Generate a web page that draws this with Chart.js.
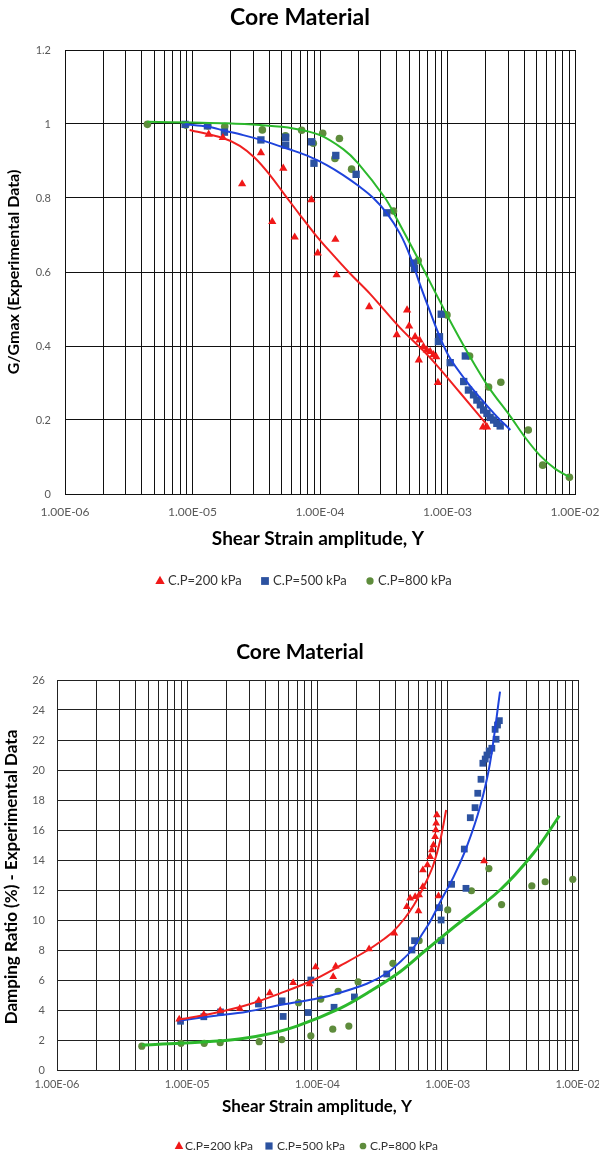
<!DOCTYPE html>
<html><head><meta charset="utf-8">
<script src="https://cdn.jsdelivr.net/npm/chart.js@4.4.1/dist/chart.umd.min.js"></script>
<style>
html,body{margin:0;padding:0;background:#fff;}
#wrap{position:relative;width:599px;height:1151px;overflow:hidden;}
#c1{position:absolute;left:0;top:0;}
#c2{position:absolute;left:0;top:600px;}
</style></head><body><div id="wrap">
<canvas id="c1" width="599" height="600"></canvas>
<canvas id="c2" width="599" height="551"></canvas>
</div>
<script>
// ---------- shared axis labels ----------
const xMajorValues = [1e-6, 1e-5, 1e-4, 1e-3, 1e-2];
const xTickLabels = ['1.00E-06', '1.00E-05', '1.00E-04', '1.00E-03', '1.00E-02'];
const seriesNames = ['C.P=200 kPa', 'C.P=500 kPa', 'C.P=800 kPa'];

// ---------- Chart 1: G/Gmax ----------
const g200x = [1.34e-5,1.73e-5,2.45e-5,3.44e-5,4.22e-5,5.15e-5,6.33e-5,8.55e-5,9.6e-5,1.32e-4,1.35e-4,2.43e-4,4.82e-4,5.0e-4,4.0e-4,5.57e-4,6.03e-4,6.48e-4,6.88e-4,7.31e-4,7.76e-4,8.15e-4,5.96e-4,8.41e-4,1.9e-3,2.04e-3];
const g200y = [0.972,0.963,0.838,0.922,0.736,0.880,0.694,0.795,0.651,0.688,0.592,0.506,0.497,0.454,0.430,0.425,0.416,0.398,0.389,0.385,0.376,0.371,0.362,0.301,0.181,0.181];
const g500x = [8.75e-6,1.31e-5,1.78e-5,3.44e-5,5.38e-5,5.38e-5,8.61e-5,8.97e-5,1.33e-4,1.92e-4,3.34e-4,5.41e-4,5.51e-4,8.93e-4,8.65e-4,8.49e-4,1.05e-3,1.38e-3,1.34e-3,1.46e-3,1.6e-3,1.70e-3,1.81e-3,1.92e-3,2.04e-3,2.16e-3,2.30e-3,2.44e-3,2.59e-3];
const g500y = [0.999,0.995,0.978,0.957,0.964,0.943,0.952,0.894,0.915,0.864,0.760,0.624,0.610,0.486,0.425,0.412,0.355,0.373,0.304,0.281,0.268,0.254,0.241,0.227,0.218,0.207,0.200,0.191,0.184];
const g800x = [4.43e-6,8.86e-6,1.32e-5,1.79e-5,3.53e-5,5.36e-5,7.18e-5,8.86e-5,1.05e-4,1.42e-4,1.31e-4,1.77e-4,3.77e-4,5.89e-4,9.9e-4,1.49e-3,2.1e-3,2.62e-3,4.3e-3,5.58e-3,9.04e-3];
const g800y = [0.999,0.997,0.995,0.993,0.984,0.968,0.983,0.948,0.975,0.961,0.907,0.878,0.765,0.631,0.484,0.373,0.289,0.302,0.173,0.078,0.045];
// fitted curves
const g200fitX = [9.5e-6,1.73e-5,2.35e-5,3.09e-5,4.05e-5,5.31e-5,6.97e-5,9.14e-5,1.2e-4,1.72e-4,2.47e-4,4.25e-4,7.31e-4,1.26e-3,2.05e-3];
const g200fitY = [0.984,0.962,0.941,0.908,0.862,0.808,0.754,0.702,0.655,0.596,0.541,0.449,0.368,0.273,0.186];
const g500fitX = [8.75e-6,1.31e-5,1.78e-5,2.5e-5,3.44e-5,4.57e-5,6.17e-5,8.34e-5,1.13e-4,1.52e-4,2.0e-4,2.62e-4,3.34e-4,4.25e-4,5.09e-4,6.1e-4,7.31e-4,8.77e-4,1.05e-3,1.42e-3,1.81e-3,2.37e-3,3.11e-3];
const g500fitY = [0.999,0.993,0.982,0.970,0.957,0.943,0.928,0.911,0.889,0.862,0.833,0.800,0.759,0.703,0.643,0.565,0.492,0.422,0.366,0.303,0.259,0.214,0.173];
const g800fitX = [4.43e-6,1.01e-5,1.85e-5,3.38e-5,6.17e-5,1.0e-4,1.52e-4,2.0e-4,3.24e-4,4.0e-4,5.89e-4,9.9e-4,1.49e-3,2.1e-3,3.11e-3,4.08e-3,5.35e-3,7.0e-3,9.04e-3];
const g800fitY = [1.006,1.004,1.002,0.997,0.988,0.970,0.932,0.893,0.800,0.744,0.635,0.484,0.373,0.289,0.210,0.152,0.103,0.068,0.046];
const gYTickValues = [0, 0.2, 0.4, 0.6, 0.8, 1, 1.2];
const gYTickLabels = ['0', '0.2', '0.4', '0.6', '0.8', '1', '1.2'];

// ---------- Chart 2: Damping ratio ----------
const d200x = [8.68e-6,1.34e-5,1.79e-5,2.53e-5,3.54e-5,4.30e-5,6.5e-5,8.69e-5,9.68e-5,1.38e-4,1.32e-4,2.49e-4,3.89e-4,4.85e-4,5.14e-4,5.62e-4,6.03e-4,6.44e-4,5.96e-4,6.44e-4,6.98e-4,7.33e-4,7.55e-4,7.77e-4,8.0e-4,8.1e-4,8.15e-4,8.25e-4,8.49e-4,1.9e-3];
const d200y = [3.38,3.70,3.97,4.10,4.63,5.13,5.82,5.73,6.87,6.91,6.22,8.07,9.11,10.89,11.45,11.55,11.67,12.22,10.6,13.33,13.67,14.22,14.67,15.0,15.55,16.0,16.45,17.0,11.6,13.93];
const d500x = [8.88e-6,1.34e-5,1.80e-5,3.52e-5,5.34e-5,5.45e-5,8.49e-5,8.89e-5,1.34e-4,1.92e-4,3.4e-4,5.31e-4,5.56e-4,8.63e-4,8.89e-4,8.89e-4,1.07e-3,1.38e-3,1.34e-3,1.49e-3,1.62e-3,1.70e-3,1.80e-3,1.86e-3,1.94e-3,2.0e-3,2.08e-3,2.18e-3,2.35e-3,2.31e-3,2.41e-3,2.49e-3];
const d500y = [3.25,3.55,3.87,4.40,4.61,3.57,3.83,6.0,4.18,4.87,6.4,8.0,8.62,10.82,10.0,8.62,12.38,12.11,14.73,16.82,17.49,18.45,19.38,20.45,20.73,21.0,21.27,21.45,22.05,22.71,23.0,23.29];
const d800x = [4.48e-6,8.95e-6,1.35e-5,1.79e-5,3.57e-5,5.32e-5,7.15e-5,8.89e-5,1.06e-4,1.31e-4,1.44e-4,1.74e-4,2.05e-4,3.79e-4,6.03e-4,1.0e-3,1.52e-3,2.07e-3,2.59e-3,4.42e-3,5.6e-3,9.12e-3];
const d800y = [1.59,1.78,1.78,1.82,1.89,2.03,4.49,2.28,4.73,2.72,5.25,2.93,5.87,7.11,8.62,10.67,11.95,13.43,11.03,12.27,12.55,12.71];
const d200fitX = [8.34e-6,1.59e-5,2.87e-5,5.17e-5,9.31e-5,1.49e-4,2.39e-4,3.2e-4,3.83e-4,4.71e-4,5.5e-4,6.14e-4,7.0e-4,7.77e-4,8.75e-4,9.72e-4];
const d200fitY = [3.33,3.78,4.33,5.11,6.0,6.95,7.95,8.7,9.25,10.15,11.0,11.75,12.75,13.7,15.3,17.33];
const d500fitX = [8.68e-6,1.59e-5,2.87e-5,5.42e-5,9.31e-5,1.30e-4,2.39e-4,3.4e-4,4.3e-4,5.31e-4,6.3e-4,7.33e-4,8.75e-4,1.11e-3,1.40e-3,1.77e-3,2.11e-3,2.52e-3];
const d500fitY = [3.29,3.6,3.89,4.37,4.72,5.0,5.75,6.45,7.2,8.0,9.0,9.9,11.2,12.89,14.89,17.55,20.45,25.22];
const d800fitX = [4.49e-6,8.84e-6,2.14e-5,3.85e-5,6.95e-5,1.49e-4,2.54e-4,4.31e-4,6.7e-4,1.07e-3,2.52e-3,4.55e-3,7.2e-3];
const d800fitY = [1.67,1.78,2.0,2.33,2.93,4.11,5.25,6.55,7.95,9.4,12.0,14.45,16.95];
const dYTickValues = [0,2,4,6,8,10,12,14,16,18,20,22,24,26];
const dYTickLabels = ['0','2','4','6','8','10','12','14','16','18','20','22','24','26'];

// ---------- helpers ----------
const FONT = 'Lato, "Open Sans", sans-serif';
const RED = '#f01818', BLUE_M = '#2c52a0', GREEN_M = '#5e8c3c';
const RED_L = '#f02020', BLUE_L = '#1f44dc', GREEN_L = '#2cb82c';

function pts(xs, ys) { return xs.map((x, i) => ({ x: x, y: ys[i] })); }

function logGridTicks() {
  const t = [];
  for (let e = -6; e <= -2; e++) {
    for (let m = 1; m <= 9; m++) {
      if (e === -2 && m > 1) break;
      t.push({ value: Number(m + 'e' + e) });
    }
  }
  return t;
}
function xLabel(value) {
  for (let i = 0; i < xMajorValues.length; i++) {
    if (Math.abs(value - xMajorValues[i]) / xMajorValues[i] < 1e-9) return xTickLabels[i];
  }
  return '';
}

function drawMarker(ctx, style, x, y, r, color) {
  ctx.save();
  ctx.fillStyle = color;
  ctx.beginPath();
  if (style === 'triangle') {
    ctx.moveTo(x, y - r);
    ctx.lineTo(x + r * 0.9, y + r * 0.6);
    ctx.lineTo(x - r * 0.9, y + r * 0.6);
    ctx.closePath();
  } else if (style === 'rect') {
    ctx.rect(x - r * 0.75, y - r * 0.75, r * 1.5, r * 1.5);
  } else {
    ctx.arc(x, y, r * 0.7, 0, Math.PI * 2);
  }
  ctx.fill();
  ctx.restore();
}

function textPlugin(cfg) {
  return {
    id: 'texts',
    afterDraw(chart) {
      const ctx = chart.ctx;
      ctx.save();
      ctx.fillStyle = '#000';
      ctx.textAlign = 'center';
      ctx.textBaseline = 'middle';
      ctx.font = 'bold ' + cfg.titleSize + 'px ' + FONT;
      ctx.fillText('Core Material', cfg.titleX, cfg.titleY);
      ctx.font = 'bold ' + cfg.xtSize + 'px ' + FONT;
      ctx.fillText('Shear Strain amplitude, \u03A5', cfg.xtX, cfg.xtY);
      ctx.save();
      ctx.translate(cfg.ytX, cfg.ytY);
      ctx.rotate(-Math.PI / 2);
      ctx.font = 'bold ' + cfg.ytSize + 'px ' + FONT;
      ctx.fillText(cfg.yTitle, 0, 0);
      ctx.restore();
      // legend
      const styles = ['triangle', 'rect', 'circle'];
      const colors = [RED, BLUE_M, GREEN_M];
      ctx.font = cfg.legSize + 'px ' + FONT;
      ctx.textAlign = 'left';
      for (let i = 0; i < 3; i++) {
        drawMarker(ctx, styles[i], cfg.legMarkX[i], cfg.legY, cfg.legR, colors[i]);
        ctx.fillStyle = '#333';
        ctx.fillText(seriesNames[i], cfg.legTextX[i], cfg.legY);
      }
      ctx.restore();
    }
  };
}

function makeChart(canvas, o) {
  const lineDs = (label, xs, ys, color, w) => ({ label: label, data: pts(xs, ys), showLine: true, borderColor: color, borderWidth: w, pointRadius: 0, tension: 0.35, order: 0 });
  const datasets = [
    lineDs('fit200', o.f200x, o.f200y, RED_L, o.lw[0]),
    lineDs('fit500', o.f500x, o.f500y, BLUE_L, o.lw[1]),
    lineDs('fit800', o.f800x, o.f800y, GREEN_L, o.lw[2]),
    { label: seriesNames[0], data: pts(o.p200x, o.p200y), showLine: false, pointStyle: 'triangle', pointRadius: o.pr[0], backgroundColor: RED, borderColor: RED, borderWidth: 0, order: 1 },
    { label: seriesNames[1], data: pts(o.p500x, o.p500y), showLine: false, pointStyle: 'rect', pointRadius: o.pr[1], backgroundColor: BLUE_M, borderColor: BLUE_M, borderWidth: 0, order: 1 },
    { label: seriesNames[2], data: pts(o.p800x, o.p800y), showLine: false, pointStyle: 'circle', pointRadius: o.pr[2], backgroundColor: GREEN_M, borderColor: GREEN_M, borderWidth: 0, order: 1 }
  ];
  return new Chart(canvas, {
    type: 'scatter',
    data: { datasets: datasets },
    options: {
      responsive: false,
      animation: false,
      devicePixelRatio: 1,
      layout: { padding: o.padding },
      plugins: { legend: { display: false }, tooltip: { enabled: false }, title: { display: false } },
      scales: {
        x: {
          type: 'logarithmic', min: 1e-6, max: 1e-2,
          afterBuildTicks: (s) => { s.ticks = logGridTicks(); },
          afterFit: (s) => { s.height = 30; s.paddingLeft = 0; s.paddingRight = 0; },
          grid: { color: o.gridColor, lineWidth: 1, drawTicks: false },
          border: { display: true, color: o.gridColor, width: 1 },
          ticks: { autoSkip: false, maxRotation: 0, minRotation: 0, padding: o.xPad, color: '#595959', font: { family: FONT, size: o.xTickSize }, callback: (v) => xLabel(v) }
        },
        y: {
          type: 'linear', min: o.yMin, max: o.yMax,
          afterBuildTicks: (s) => { s.ticks = o.yVals.map(v => ({ value: v })); },
          afterFit: (s) => { s.width = o.yWidth; s.paddingTop = 0; s.paddingBottom = 0; },
          grid: { color: o.gridColor, lineWidth: 1, drawTicks: false },
          border: { display: true, color: o.gridColor, width: 1 },
          ticks: { autoSkip: false, padding: o.yPad, color: '#595959', font: { family: FONT, size: o.tickSize },
                   callback: (v) => { const i = o.yVals.indexOf(v); return i >= 0 ? o.yLabs[i] : ''; } }
        }
      }
    },
    plugins: [textPlugin(o.text)]
  });
}

makeChart(document.getElementById('c1'), {
  p200x: g200x, p200y: g200y, p500x: g500x, p500y: g500y, p800x: g800x, p800y: g800y,
  f200x: g200fitX, f200y: g200fitY, f500x: g500fitX, f500y: g500fitY, f800x: g800fitX, f800y: g800fitY,
  lw: [2, 2, 2], pr: [4.8, 5.2, 3.8],
  padding: { left: 0, right: 24, top: 50, bottom: 76 },
  yWidth: 65, yMin: 0, yMax: 1.2, yVals: gYTickValues, yLabs: gYTickLabels,
  gridColor: '#111', tickSize: 11, xTickSize: 12, xPad: 11, yPad: 14,
  text: { titleSize: 23, titleX: 300, titleY: 18, xtSize: 19, xtX: 318, xtY: 539,
          ytSize: 16, ytX: 14, ytY: 272, yTitle: 'G/Gmax (Experimental Data)',
          legSize: 13, legY: 581, legR: 5.2, legMarkX: [160, 265, 370], legTextX: [168, 273, 378] }
});

makeChart(document.getElementById('c2'), {
  p200x: d200x, p200y: d200y, p500x: d500x, p500y: d500y, p800x: d800x, p800y: d800y,
  f200x: d200fitX, f200y: d200fitY, f500x: d500fitX, f500y: d500fitY, f800x: d800fitX, f800y: d800fitY,
  lw: [2, 2, 3], pr: [4.5, 4.8, 3.6],
  padding: { left: 0, right: 21, top: 80, bottom: 51 },
  yWidth: 57, yMin: 0, yMax: 26, yVals: dYTickValues, yLabs: dYTickLabels,
  gridColor: '#222', tickSize: 11, xTickSize: 11, xPad: 8, yPad: 12,
  text: { titleSize: 21, titleX: 300, titleY: 52, xtSize: 17, xtX: 317, xtY: 507,
          ytSize: 17, ytX: 12, ytY: 277, yTitle: 'Damping Ratio (%) - Experimental Data',
          legSize: 12, legY: 546, legR: 4.8, legMarkX: [179, 269, 363], legTextX: [185, 277, 370] }
});
</script>
</body></html>
